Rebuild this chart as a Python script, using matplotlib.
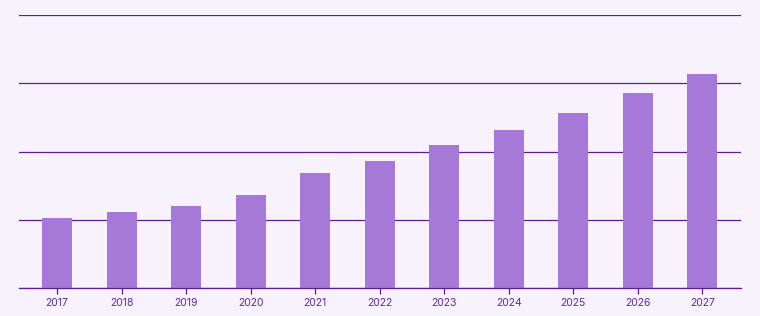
import matplotlib
matplotlib.use("Agg")
import matplotlib.pyplot as plt

years = ["2017", "2018", "2019", "2020", "2021", "2022", "2023", "2024", "2025", "2026", "2027"]
values = [1.03, 1.11, 1.20, 1.36, 1.69, 1.86, 2.10, 2.32, 2.56, 2.86, 3.14]

BG = "#f8f2fd"
LINE = "#5a1d9a"
BAR = "#a678d8"
TEXT = "#5a2a9e"

plt.rcParams["font.family"] = ["Inter", "DejaVu Sans"]

fig = plt.figure(figsize=(7.6, 3.16), dpi=100, facecolor=BG)
ax = fig.add_axes([19 / 760, 28 / 316, 722 / 760, 273 / 316])
ax.set_facecolor(BG)

x = range(len(years))
ax.bar(x, values, width=0.465, color=BAR, zorder=2)

ax.set_xlim(-0.59, 10.6)
ax.set_ylim(0, 4)
ax.set_yticks([0, 1, 2, 3, 4])
ax.yaxis.grid(True, color=LINE, linewidth=0.9, zorder=1)
ax.tick_params(axis="y", left=False, labelleft=False)

ax.set_xticks(list(x))
ax.set_xticklabels(years, fontsize=7.5, color=TEXT)
ax.tick_params(axis="x", length=4, width=0.9, color=LINE, pad=3)

for side in ["top", "left", "right"]:
    ax.spines[side].set_visible(False)
ax.spines["bottom"].set_color(LINE)
ax.spines["bottom"].set_linewidth(0.9)

fig.savefig("out.png", dpi=100, facecolor=BG)
